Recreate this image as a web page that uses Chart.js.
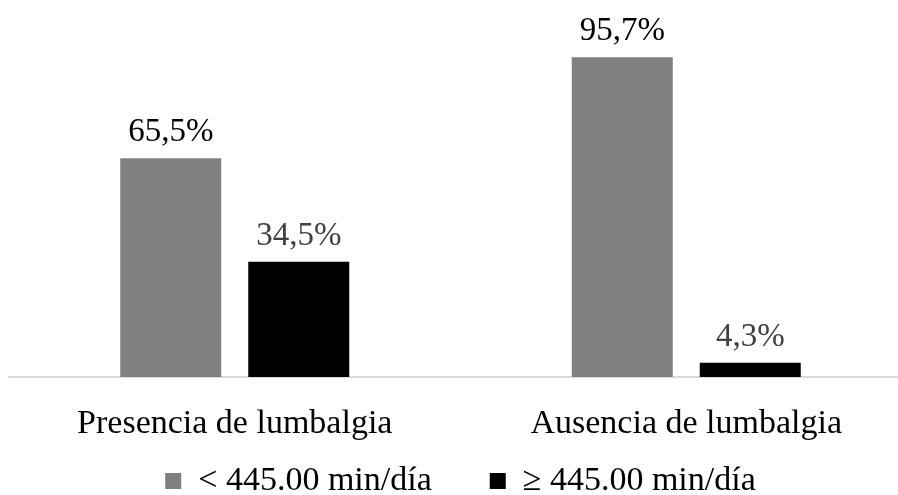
<!DOCTYPE html>
<html>
<head>
<meta charset="utf-8">
<script src="https://cdn.jsdelivr.net/npm/chart.js@4.4.1/dist/chart.umd.min.js"></script>
<style>
  html, body { margin: 0; padding: 0; background: #ffffff; overflow: hidden; }
  #wrap { width: 912px; height: 495px; position: relative; }
</style>
</head>
<body>
<div id="wrap"><canvas id="chart"></canvas></div>
<script>
// Categories and series (percent of each group)
const categories = ['Presencia de lumbalgia', 'Ausencia de lumbalgia'];
const seriesNames = ['< 445.00 min/día', '≥ 445.00 min/día'];
const belowThreshold = [65.5, 95.7];
const atOrAboveThreshold = [34.5, 4.3];

const serif = "'Liberation Serif', 'Times New Roman', serif";
const labelColors = ['#000000', '#404040'];

// Writes each bar's value above it, with a decimal comma
const valueLabels = {
  id: 'valueLabels',
  afterDatasetsDraw(chart) {
    const ctx = chart.ctx;
    ctx.save();
    ctx.font = '33px ' + serif;
    ctx.textAlign = 'center';
    ctx.textBaseline = 'alphabetic';
    chart.data.datasets.forEach((ds, i) => {
      const meta = chart.getDatasetMeta(i);
      ctx.fillStyle = labelColors[i];
      meta.data.forEach((bar, j) => {
        const txt = ds.data[j].toFixed(1).replace('.', ',') + '%';
        ctx.fillText(txt, bar.x, bar.y - 17);
      });
    });
    ctx.restore();
  }
};

// The legend uses a wide item gap (labels.padding), which Chart.js also
// applies vertically; reserve a short block and lift the legend into place
const LEGEND_RESERVED = 48;
const LEGEND_ROW_CENTER = 481;
const legendBlock = {
  id: 'legendBlock',
  beforeInit(chart) {
    const legend = chart.legend;
    const fit = legend.fit;
    legend.fit = function () {
      fit.call(this);
      this.height = LEGEND_RESERVED;
    };
  },
  afterLayout(chart) {
    const legend = chart.legend;
    const lab = legend.options.labels;
    const size = lab.font.size;
    const itemHeight = Math.max(size, lab.boxHeight);
    legend.top = LEGEND_ROW_CENTER - lab.padding - itemHeight / 2;
    legend.bottom = chart.height;
    legend.height = legend.bottom - legend.top;
  }
};

new Chart(document.getElementById('chart'), {
  type: 'bar',
  data: {
    labels: categories,
    datasets: [
      {
        label: seriesNames[0],
        data: belowThreshold,
        backgroundColor: '#808080',
        borderWidth: 0
      },
      {
        label: seriesNames[1],
        data: atOrAboveThreshold,
        backgroundColor: '#000000',
        borderWidth: 0
      }
    ]
  },
  options: {
    responsive: true,
    maintainAspectRatio: false,
    animation: false,
    datasets: {
      bar: { categoryPercentage: 0.567, barPercentage: 0.789 }
    },
    layout: { padding: { top: 43, left: 9, right: 0, bottom: 0 } },
    scales: {
      y: { display: false, min: 0, max: 100 },
      x: {
        grid: { display: false, drawTicks: false },
        border: { display: true, color: '#d9d9d9', width: 2 },
        ticks: {
          color: '#000000',
          padding: 27,
          font: { family: serif, size: 34 }
        },
        afterFit(scale) { scale.height = 70; }
      }
    },
    plugins: {
      legend: {
        position: 'bottom',
        labels: {
          color: '#000000',
          font: { family: serif, size: 34 },
          boxWidth: 16,
          boxHeight: 16,
          padding: 58
        }
      },
      tooltip: { enabled: false }
    }
  },
  plugins: [valueLabels, legendBlock]
});
</script>
</body>
</html>
